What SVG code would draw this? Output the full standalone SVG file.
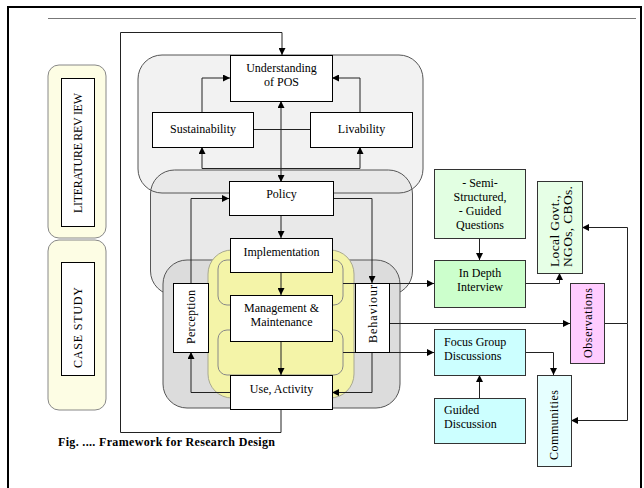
<svg xmlns="http://www.w3.org/2000/svg" width="644" height="488" viewBox="0 0 644 488" font-family="'Liberation Serif', 'DejaVu Serif', serif">
<style>
text{font-family:'Liberation Serif','Times New Roman','DejaVu Serif',serif;font-size:12px;fill:#000}
.c{text-anchor:middle}
.box{fill:#fff;stroke:#000;stroke-width:1}
.ln{fill:none;stroke:#222;stroke-width:1}
.bg{stroke:#555;stroke-width:1}
</style>
<defs>
<marker id="ah" viewBox="0 0 10 10" refX="10" refY="5" markerWidth="8" markerHeight="7" markerUnits="userSpaceOnUse" orient="auto-start-reverse">
<path d="M0,0 L10,5 L0,10 z" fill="#000"/>
</marker>
</defs>
<rect width="644" height="488" fill="#fff"/>
<rect x="8" y="7" width="633" height="500" fill="none" stroke="#000" stroke-width="2"/>
<line x1="48" y1="18.5" x2="636" y2="18.5" stroke="#777" stroke-width="1"/>

<g id="backgrounds">
<rect x="138" y="55" width="285" height="138" rx="24" fill="#f2f2f2"/>
<rect x="150.5" y="170" width="262" height="125" rx="24" fill="#e9e9e9"/>
<rect x="138" y="55" width="285" height="138" rx="24" fill="none" class="bg"/>
<rect x="150.5" y="170" width="262" height="125" rx="24" fill="none" class="bg"/>
<rect x="163" y="260" width="237" height="148" rx="24" fill="#dcdcdc" class="bg"/>
<rect x="208" y="250" width="146" height="148" rx="24" fill="#f4f4a8" stroke="#a8a890"/>
<rect x="218" y="260" width="125" height="45" rx="9" fill="none" stroke="#888"/>
<rect x="218" y="330" width="125" height="45" rx="9" fill="none" stroke="#888"/>
</g>

<g id="phases">
<rect x="48" y="65" width="58" height="173" rx="11" fill="#fdfde4" stroke="#888"/>
<rect x="48" y="240" width="58" height="170" rx="11" fill="#fdfde4" stroke="#888"/>
</g>
<g id="literature-review">
<rect x="61.5" y="78.5" width="33" height="148" class="box"/>
<text transform="translate(82,213) rotate(-90)" textLength="120" lengthAdjust="spacing">LITERATURE REV IEW</text>
</g>
<g id="case-study">
<rect x="61.5" y="262.5" width="33" height="113" class="box"/>
<text transform="translate(82,368) rotate(-90)" textLength="81" lengthAdjust="spacing">CASE STUDY</text>
</g>

<g id="connectors">
<path class="ln" d="M281,409 V432.5 H120.5 V32.5 H282 V55" marker-end="url(#ah)"/>
<path class="ln" d="M202,112 V78 H230" marker-end="url(#ah)"/>
<path class="ln" d="M360,112 V78 H332" marker-end="url(#ah)"/>
<path class="ln" d="M253,129.5 H310"/>
<path class="ln" d="M281,101 V182" marker-start="url(#ah)" marker-end="url(#ah)"/>
<path class="ln" d="M202,168.5 V147"  marker-end="url(#ah)"/>
<path class="ln" d="M360,168.5 V147" marker-end="url(#ah)"/>
<path class="ln" d="M202,168.5 H360"/>
<path class="ln" d="M281,215 V238" marker-end="url(#ah)"/>
<path class="ln" d="M281,272 V295" marker-end="url(#ah)"/>
<path class="ln" d="M281,341 V375" marker-end="url(#ah)"/>
<path class="ln" d="M230,392.5 H191 V352" marker-end="url(#ah)"/>
<path class="ln" d="M191,283 V198.5 H229" marker-end="url(#ah)"/>
<path class="ln" d="M333,198.5 H372 V283" marker-end="url(#ah)"/>
<path class="ln" d="M372,352 V392.5 H332" marker-end="url(#ah)"/>
<path class="ln" d="M343,283.5 H434" marker-end="url(#ah)"/>
<path class="ln" d="M389,323.5 H570" marker-end="url(#ah)"/>
<path class="ln" d="M343,352.5 H434" marker-end="url(#ah)"/>
<path class="ln" d="M479.5,238 V260" marker-end="url(#ah)"/>
<path class="ln" d="M525,283.5 H559.5 V273" marker-end="url(#ah)"/>
<path class="ln" d="M604,323.5 H627.5"/>
<path class="ln" d="M627.5,323.5 V227.5 H582" marker-end="url(#ah)"/>
<path class="ln" d="M627.5,323.5 V420.5 H571" marker-end="url(#ah)"/>
<path class="ln" d="M479.5,398 V375" marker-end="url(#ah)"/>
<path class="ln" d="M525,352.5 H553.5 V375" marker-end="url(#ah)"/>
</g>

<g id="understanding">
<rect x="230.5" y="55.5" width="102" height="46" class="box"/>
<text x="281.5" y="72" class="c">Understanding</text>
<text x="281.5" y="86" class="c">of POS</text>
</g>
<g id="sustainability">
<rect x="152.5" y="112.5" width="101" height="35" class="box"/>
<text x="203" y="133" class="c">Sustainability</text>
</g>
<g id="livability">
<rect x="310.5" y="112.5" width="102" height="35" class="box"/>
<text x="361.5" y="133" class="c">Livability</text>
</g>
<g id="policy">
<rect x="229.5" y="181.5" width="104" height="34" class="box"/>
<text x="281.5" y="198" class="c">Policy</text>
</g>
<g id="implementation">
<rect x="230.5" y="238.5" width="102" height="34" class="box"/>
<text x="281.5" y="256" class="c">Implementation</text>
</g>
<g id="management">
<rect x="230.5" y="295.5" width="102" height="46" class="box"/>
<text x="281.5" y="312" class="c">Management &amp;</text>
<text x="281.5" y="326" class="c">Maintenance</text>
</g>
<g id="use-activity">
<rect x="230.5" y="375.5" width="102" height="34" class="box"/>
<text x="281.5" y="393" class="c">Use, Activity</text>
</g>
<g id="perception">
<rect x="173.5" y="283.5" width="35" height="69" class="box"/>
<text transform="translate(195,344) rotate(-90)" textLength="54" lengthAdjust="spacing">Perception</text>
</g>
<g id="behaviour">
<rect x="355.5" y="283.5" width="34" height="69" class="box"/>
<text transform="translate(377,343) rotate(-90)" textLength="58" lengthAdjust="spacing">Behaviour</text>
</g>
<g id="semi-structured">
<rect x="434.5" y="169.5" width="91" height="69" fill="#e2ffe2" stroke="#333"/>
<text x="480" y="187" class="c">- Semi-</text>
<text x="480" y="201" class="c">Structured,</text>
<text x="480" y="215" class="c">- Guided</text>
<text x="480" y="229" class="c">Questions</text>
</g>
<g id="in-depth-interview">
<rect x="434.5" y="260.5" width="91" height="47" fill="#ccffcc" stroke="#333"/>
<text x="480" y="277" class="c">In Depth</text>
<text x="480" y="291" class="c">Interview</text>
</g>
<g id="local-govt">
<rect x="537.5" y="181.5" width="45" height="92" fill="#e6ffe6" stroke="#333"/>
<text transform="translate(559,267) rotate(-90)" style="font-size:13.5px" textLength="72" lengthAdjust="spacing">Local Govt.,</text>
<text transform="translate(572,267) rotate(-90)" style="font-size:13.5px" textLength="81" lengthAdjust="spacing">NGOs, CBOs.</text>
</g>
<g id="observations">
<rect x="570.5" y="283.5" width="34" height="80" fill="#ffccff" stroke="#333"/>
<text transform="translate(592,358) rotate(-90)" textLength="70" lengthAdjust="spacing">Observations</text>
</g>
<g id="focus-group">
<rect x="434.5" y="329.5" width="91" height="46" fill="#ccffff" stroke="#333"/>
<text x="444" y="346">Focus Group</text>
<text x="444" y="360">Discussions</text>
</g>
<g id="guided-discussion">
<rect x="434.5" y="398.5" width="91" height="45" fill="#ccffff" stroke="#333"/>
<text x="444" y="414">Guided</text>
<text x="444" y="428">Discussion</text>
</g>
<g id="communities">
<rect x="537.5" y="375.5" width="34" height="91" fill="#e6ffff" stroke="#333"/>
<text transform="translate(558,460) rotate(-90)" textLength="70" lengthAdjust="spacing">Communities</text>
</g>

<text x="58" y="446" font-weight="bold" font-size="11" textLength="217" lengthAdjust="spacing">Fig. .... Framework for Research Design</text>
</svg>
